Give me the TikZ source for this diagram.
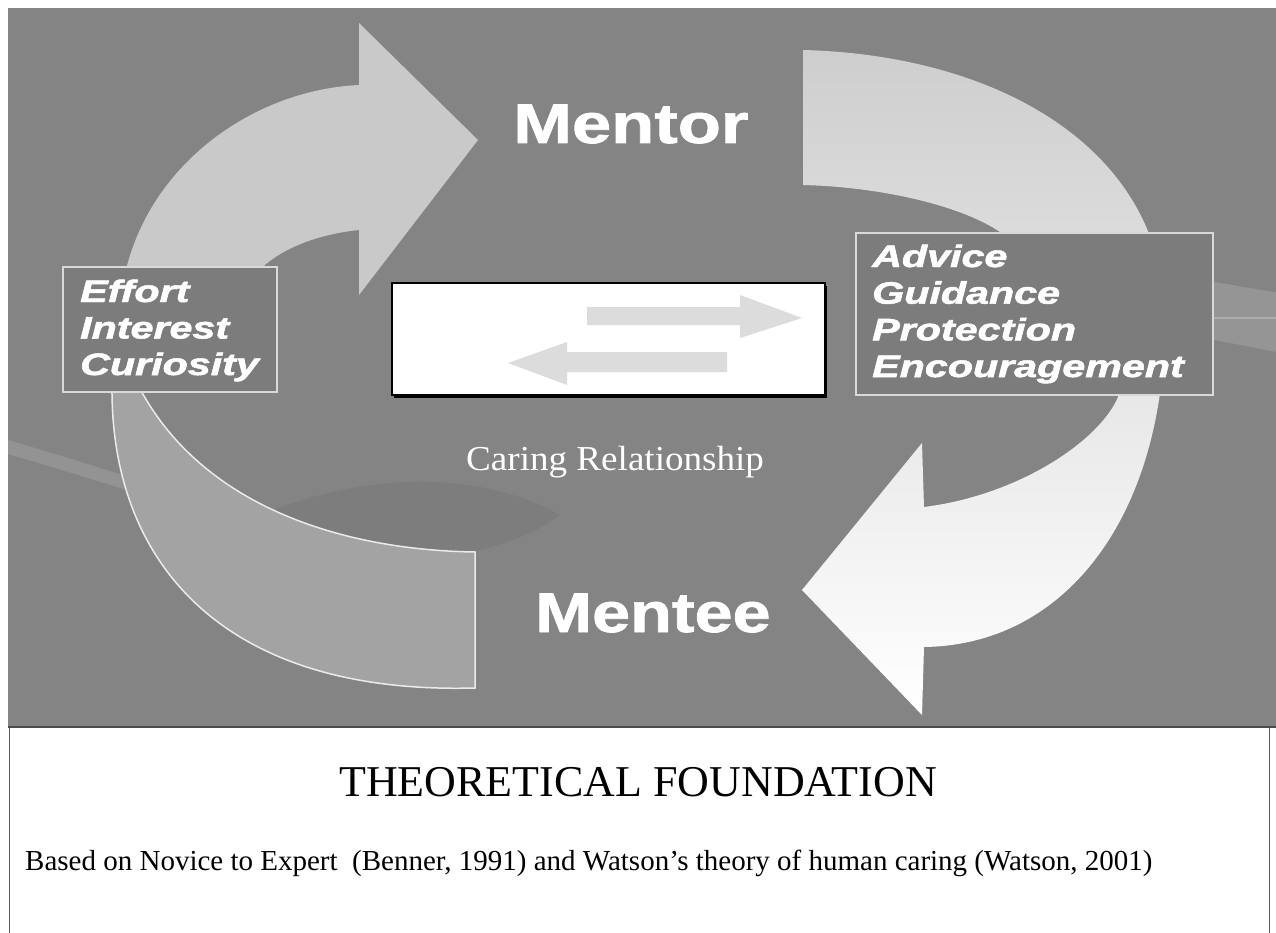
\documentclass[tikz,border=0pt]{standalone}
\usepackage{fontspec}
\setmainfont{Liberation Serif}
\setsansfont{Liberation Sans}
\newfontface\heavyitalic{Liberation Sans Bold Italic}[FakeBold=1.6]
\newfontface\heavyupright{Liberation Sans Bold}[FakeBold=1.2]
\definecolor{slidebg}{RGB}{132,132,132}
\definecolor{arrowlight}{RGB}{201,201,201}
\definecolor{ribbon}{RGB}{163,163,163}
\definecolor{rtop}{RGB}{206,206,206}
\definecolor{inarrow}{RGB}{220,220,220}
\definecolor{panelline}{RGB}{90,90,90}
\tikzset{
  labelbox/.style={draw=white!85!black, line width=1.6pt, fill=slidebg!94!black, inner sep=0pt},
  boxword/.style={anchor=base west, inner sep=0pt, text=white,
    font=\heavyitalic\fontsize{31}{34}\selectfont},
  bigword/.style={anchor=base west, inner sep=0pt, text=white,
    font=\heavyupright\fontsize{56}{60}\selectfont},
}
\newcommand{\wide}[1]{\scalebox{1.33}[1]{#1}}
\begin{document}
\begin{tikzpicture}[x=1pt,y=-1pt]
\useasboundingbox (0,0) rectangle (1276,933);
\fill[white] (0,0) rectangle (1276,933);

% slide background
\fill[slidebg] (8,8) rectangle (1276,727);
% soft swooshes in the background
\fill[white,opacity=0.13] (8,440) .. controls (110,470) and (220,505) .. (330,548)
  -- (330,560) .. controls (220,518) and (110,484) .. (8,454) -- cycle;
\fill[black,opacity=0.05] (250,520) .. controls (360,470) and (480,470) .. (560,515)
  .. controls (500,560) and (380,575) .. (250,545) -- cycle;
\fill[white,opacity=0.14] (1214,282) .. controls (1240,286) and (1258,290) .. (1276,292)
  -- (1276,352) .. controls (1256,348) and (1236,344) .. (1214,340) -- cycle;
\draw[white,opacity=0.25,line width=2pt] (1214,318) -- (1276,318);

% lower-left ribbon (back of the cycle)
\draw[fill=ribbon, draw=white!92!black, line width=1.5pt]
  (112,385) .. controls (110,560) and (220,695) .. (475,688)
  -- (475,552) .. controls (340,550) and (200,505) .. (138,385) -- cycle;

% upper-left arrow towards the mentor
\fill[arrowlight]
  (122,290) .. controls (140,170) and (250,90) .. (359,85)
  -- (359,23) -- (478,140) -- (359,295) -- (359,230)
  .. controls (310,235) and (262,255) .. (245,290) -- cycle;

% right arrow from the mentor down to the mentee
\shade[top color=rtop, middle color=white, bottom color=white]
  (803,50) .. controls (1000,55) and (1165,150) .. (1165,320)
  .. controls (1165,510) and (1070,645) .. (924,647)
  -- (922,715) -- (802,590) -- (922,443) -- (924,507)
  .. controls (1020,495) and (1100,440) .. (1118,397)
  .. controls (1130,330) and (1060,250) .. (1000,232)
  .. controls (960,205) and (880,187) .. (803,185) -- cycle;

% label boxes
\node[labelbox, minimum width=214pt, minimum height=125pt] (give) at (170,329.5) {};
\node[labelbox, minimum width=357pt, minimum height=162pt] (receive) at (1034.5,314) {};

\node[boxword] (effort)    at (80,302)   {\wide{Effort}};
\node[boxword] (interest)  at (80,338.5) {\wide{Interest}};
\node[boxword] (curiosity) at (80,375)   {\wide{Curiosity}};

\node[boxword] (advice)     at (872,267)   {\wide{Advice}};
\node[boxword] (guidance)   at (872,303.7) {\wide{Guidance}};
\node[boxword] (protection) at (872,340.3) {\wide{Protection}};
\node[boxword] (encourage)  at (872,377)   {\wide{Encouragement}};

% central relationship box
\fill[black] (394,286) rectangle (827,398);
\node[draw=black, line width=1.8pt, fill=white, minimum width=433pt, minimum height=112pt,
  inner sep=0pt] (relation) at (608.5,339) {};
\fill[inarrow] (587,307) -- (740,307) -- (740,295) -- (802,318) -- (740,338)
  -- (740,325) -- (587,325) -- cycle;
\fill[inarrow] (727,352) -- (567,352) -- (567,342) -- (508,363) -- (567,385)
  -- (567,372) -- (727,372) -- cycle;

\node[anchor=base west, inner sep=0pt, text=white, font=\fontsize{35}{40}\selectfont]
  (caring) at (466,470) {\scalebox{1.06}[1]{Caring Relationship}};

\node[bigword] (mentor) at (513,143) {\scalebox{1.26}[1]{Mentor}};
\node[bigword] (mentee) at (535,632) {\scalebox{1.22}[1]{Mentee}};

% caption panel
\draw[panelline, line width=1pt] (9,940) -- (9,727) -- (1269,727) -- (1269,940);
\draw[black!70, line width=1.2pt] (8,727) -- (1276,727);
\node[anchor=base, inner sep=0pt, font=\fontsize{44}{48}\selectfont]
  (title) at (638,796) {THEORETICAL FOUNDATION};
\node[anchor=base west, inner sep=0pt, font=\fontsize{29}{32}\selectfont]
  (basis) at (25,870) {Based on Novice to Expert\ \ (Benner, 1991) and Watson’s theory of human caring (Watson, 2001)};
\end{tikzpicture}
\end{document}
